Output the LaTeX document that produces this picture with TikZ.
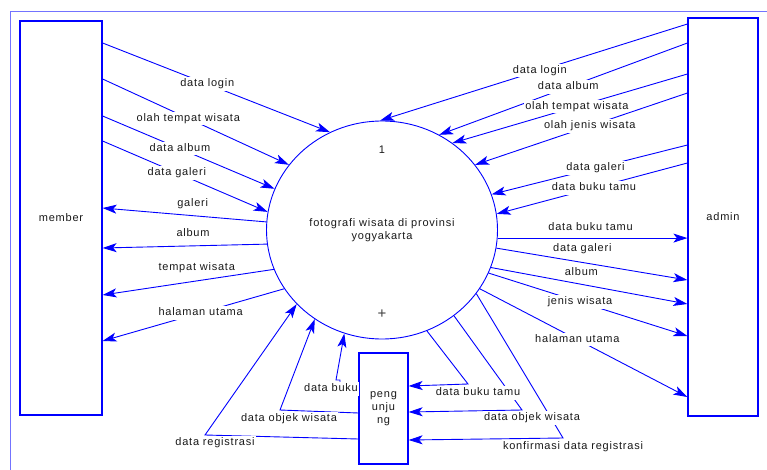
\documentclass[tikz,border=0pt]{standalone}
\usepackage{fontspec}
\setmainfont{Liberation Sans}[LetterSpace=7]
\usetikzlibrary{arrows.meta,shapes.geometric,positioning}
\tikzset{
  ent/.style={draw=blue,line width=1.2pt,inner sep=0pt,align=center},
  proses/.style={ellipse,draw=blue,line width=0.9pt,inner sep=0pt,align=center,
    minimum width=231pt,minimum height=218pt},
  alir/.style={draw=blue,line width=0.9pt,
    -{Stealth[length=14pt,width=9pt,inset=3.5pt]}},  % data flow
  lbl/.style={fill=white,inner xsep=1pt,inner ysep=1.5pt,text height=8pt,text depth=2.5pt},
  bingkai/.style={draw=blue!55,line width=0.8pt},
}

\begin{document}
\begin{tikzpicture}[x=1pt,y=-1pt,font=\fontsize{11}{13}\selectfont,text=black!90]
  \useasboundingbox (0,0) rectangle (767,470);
  \draw[bingkai] (10,470) -- (10,11) -- (767,11);

  % entities and process
  \node[ent,minimum width=82pt,minimum height=394pt] (member) at (61,218) {member};
  \node[ent,minimum width=70pt,minimum height=398pt] (admin) at (723,217) {admin};
  \node[ent,minimum width=49pt,minimum height=111pt] (peng) at (383.5,408.5) {peng\\unju\\ng};
  \node[proses] (proc) at (382,230) {fotografi wisata di provinsi\\yogyakarta};
  \node (nomor) at (382,150) {1};
  \node[text=black!75,font=\fontsize{15}{15}\selectfont] (plus) at (382,314) {+};

  % member -> proses
  \draw[alir] (member.east |- 0,43) -- node[lbl,pos=.46]{data login} (proc.118);
  \draw[alir] (member.east |- 0,79) -- node[lbl,pos=.46]{olah tempat wisata} (proc.145);
  \draw[alir] (member.east |- 0,116) -- node[lbl,pos=.45]{data album} (proc.159);
  \draw[alir] (member.east |- 0,141) -- node[lbl,pos=.45]{data galeri} (proc.171);

  % proses -> member
  \draw[alir] (proc.176) -- node[pos=.45,above=3pt]{galeri} (member.east |- 0,208);
  \draw[alir] (proc.187) -- node[pos=.45,above=5pt]{album} (member.east |- 0,248);
  \draw[alir] (proc.200) -- node[pos=.45,above=4pt]{tempat wisata} (member.east |- 0,295);
  \draw[alir] (proc.211) -- node[lbl,pos=.46]{halaman utama} (member.east |- 0,341);

  % admin -> proses
  \draw[alir] (admin.west |- 0,24) -- node[lbl,pos=.48]{data login} (proc.91);
  \draw[alir] (admin.west |- 0,43) -- node[lbl,pos=.48]{data album} (proc.59);
  \draw[alir] (admin.west |- 0,74) -- node[lbl,pos=.47]{olah tempat wisata} (proc.51);
  \draw[alir] (admin.west |- 0,93) -- node[lbl,pos=.46]{olah jenis wisata} (proc.35);
  \draw[alir] (admin.west |- 0,145) -- node[lbl,pos=.47]{data galeri} (proc.18);
  \draw[alir] (admin.west |- 0,163) -- node[lbl,pos=.49]{data buku tamu} (proc.8);

  % proses -> admin
  \draw[alir] (proc.356) -- node[pos=.49,above=4pt]{data buku tamu} (proc.356 -| admin.west);
  \draw[alir] (proc.351) -- node[pos=.45,above=5pt]{data galeri} (admin.west |- 0,280);
  \draw[alir] (proc.341) -- node[pos=.46,above=5pt]{album} (admin.west |- 0,304);
  \draw[alir] (proc.338) -- node[lbl,pos=.46]{jenis wisata} (admin.west |- 0,336);
  \draw[alir] (proc.329) -- node[lbl,pos=.47]{halaman utama} (admin.west |- 0,397);

  % pengunjung -> proses
  \draw[alir] (peng.west |- 0,439) -- (205,435) -- (proc.221)
    node[lbl] at (215,443) {data registrasi};
  \draw[alir] (peng.west |- 0,413) -- (280,410) -- (proc.233)
    node[lbl] at (289,419) {data objek wisata};
  \draw[alir] (peng.west |- 0,389) -| (340,380) -- (336,380) -- (proc.250)
    node[lbl] at (331,389) {data buku};

  % proses -> pengunjung
  \draw[alir] (proc.326) -- (563,438) -- (peng.east |- 0,440)
    node[lbl] at (573,447) {konfirmasi data registrasi};
  \draw[alir] (proc.310) -- (522,410) -- (peng.east |- 0,412)
    node[lbl] at (532,418) {data objek wisata};
  \draw[alir] (proc.294) -- (468,384) -- (peng.east |- 0,386)
    node[lbl] at (478,393) {data buku tamu};
\end{tikzpicture}
\end{document}
